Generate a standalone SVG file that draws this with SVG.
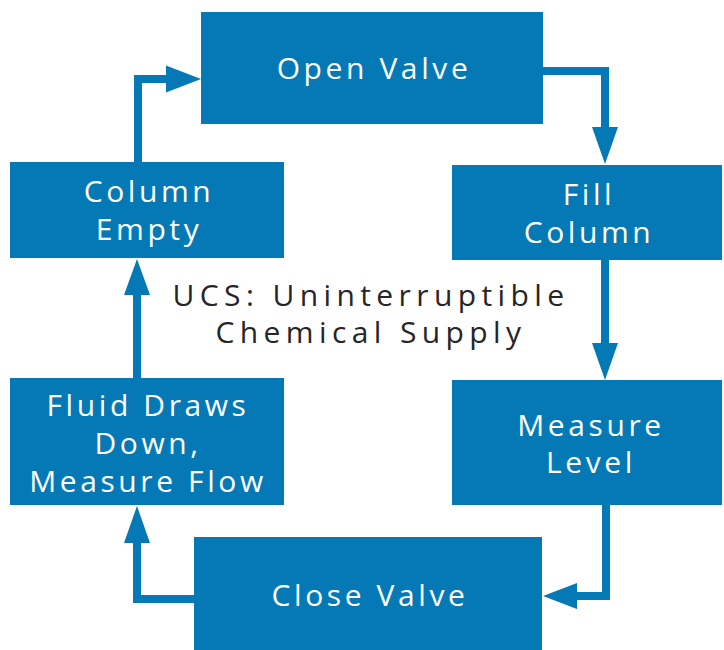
<svg xmlns="http://www.w3.org/2000/svg" width="724" height="650" viewBox="0 0 724 650">
<style>
.box{fill:#0479b5}
.lbl{fill:#ffffff;font-family:"Open Sans","Liberation Sans",sans-serif;font-size:30px;text-anchor:middle;letter-spacing:3.6px}
.note{fill:#262626;font-family:"Open Sans","Liberation Sans",sans-serif;font-size:30px;text-anchor:middle;letter-spacing:5.4px}
.conn{fill:none;stroke:#0479b5;stroke-width:8}
.head{fill:#0479b5}
</style>
<rect width="724" height="650" fill="#ffffff"/>
<g id="connectors">
<polyline class="conn" points="138,162 138,79 168,79"/>
<polygon class="head" points="201,79 166,65.5 166,92.5"/>
<polyline class="conn" points="543,71 605,71 605,129"/>
<polygon class="head" points="605,164 592,127 618,127"/>
<polyline class="conn" points="605,260 605,345"/>
<polygon class="head" points="605,380 592,343 618,343"/>
<polyline class="conn" points="606,505 606,596 575,596"/>
<polygon class="head" points="543,596 577,583 577,609"/>
<polyline class="conn" points="194,599 137,599 137,541"/>
<polygon class="head" points="137,506 124,543 150,543"/>
<polyline class="conn" points="137,378 137,293"/>
<polygon class="head" points="137,259 124,295 150,295"/>
</g>
<g id="open-valve">
<rect class="box" x="201" y="12" width="342" height="112"/>
<text class="lbl" x="374" y="79">Open Valve</text>
</g>
<g id="fill-column">
<rect class="box" x="452" y="165" width="270" height="95"/>
<text class="lbl" x="589" y="205">Fill</text>
<text class="lbl" x="589" y="243">Column</text>
</g>
<g id="measure-level">
<rect class="box" x="452" y="380" width="270" height="125"/>
<text class="lbl" x="591" y="436">Measure</text>
<text class="lbl" x="591" y="473">Level</text>
</g>
<g id="close-valve">
<rect class="box" x="194" y="537" width="348" height="113"/>
<text class="lbl" x="370" y="606">Close Valve</text>
</g>
<g id="fluid-draws">
<rect class="box" x="10" y="378" width="274" height="127"/>
<text class="lbl" x="148" y="416">Fluid Draws</text>
<text class="lbl" x="148" y="454">Down,</text>
<text class="lbl" x="148" y="492">Measure Flow</text>
</g>
<g id="column-empty">
<rect class="box" x="10" y="162" width="274" height="96"/>
<text class="lbl" x="149" y="202">Column</text>
<text class="lbl" x="149" y="240">Empty</text>
</g>
<g id="title">
<text class="note" x="371" y="306">UCS: Uninterruptible</text>
<text class="note" x="371" y="343">Chemical Supply</text>
</g>
</svg>
